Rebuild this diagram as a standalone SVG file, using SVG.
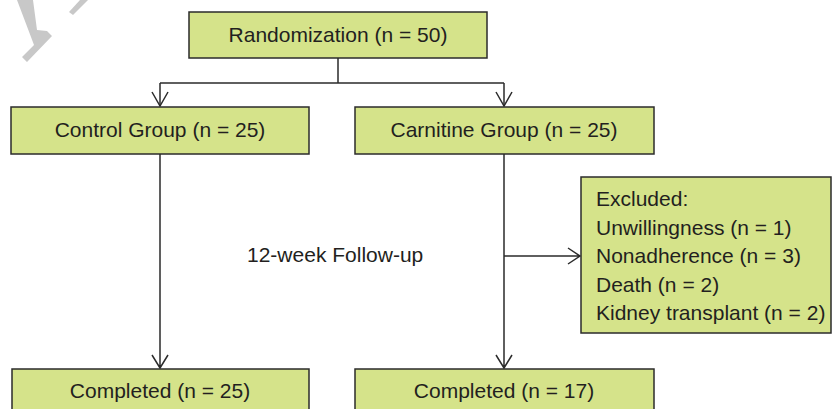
<svg xmlns="http://www.w3.org/2000/svg" width="832" height="409" viewBox="0 0 832 409">
<style>
.box{fill:#d5e38a;stroke:#2b2b2b;stroke-width:1.5}
.t{font-family:"Liberation Sans",Arial,sans-serif;font-size:21px;fill:#231f20}
.c{text-anchor:middle}
.ln{fill:none;stroke:#2b2b2b;stroke-width:1.5}
.wm{fill:#c8c8c8}
</style>
<rect width="832" height="409" fill="#ffffff"/>
<g id="watermark">
<polygon class="wm" points="17,0 33,0 37,30 47,31 52,36 27,62 22,57 34,45 31,37"/>
<polygon class="wm" points="69,12 73,15 88,0 80,0"/>
</g>
<g id="connectors">
<path class="ln" d="M338,58 V83 M160,83 H504 M160,83 V106 M504,83 V106"/>
<path class="ln" d="M152,92 L160,106 L168,92 M496,92 L504,106 L512,92"/>
<path class="ln" d="M160,154 V368 M152,355 L160,368 L168,355"/>
<path class="ln" d="M504,154 V368 M496,355 L504,368 L512,355"/>
<path class="ln" d="M504,256 H580 M568,248 L580,256 L568,264"/>
</g>
<g id="randomization">
<rect class="box" x="189" y="12" width="298" height="46"/>
<text class="t c" x="338" y="42">Randomization (n = 50)</text>
</g>
<g id="control">
<rect class="box" x="11" y="107" width="298" height="47"/>
<text class="t c" x="160" y="137">Control Group (n = 25)</text>
</g>
<g id="carnitine">
<rect class="box" x="355" y="107" width="299" height="47"/>
<text class="t c" x="504" y="137">Carnitine Group (n = 25)</text>
</g>
<g id="followup">
<text class="t" x="247" y="262">12-week Follow-up</text>
</g>
<g id="excluded">
<rect class="box" x="581" y="177" width="250" height="156"/>
<text class="t" x="596" y="206">Excluded:</text>
<text class="t" x="596" y="235">Unwillingness (n = 1)</text>
<text class="t" x="596" y="263">Nonadherence (n = 3)</text>
<text class="t" x="596" y="292">Death (n = 2)</text>
<text class="t" x="596" y="320">Kidney transplant (n = 2)</text>
</g>
<g id="completed-control">
<rect class="box" x="12" y="369" width="297" height="50"/>
<text class="t c" x="160" y="398">Completed (n = 25)</text>
</g>
<g id="completed-carnitine">
<rect class="box" x="355" y="369" width="299" height="50"/>
<text class="t c" x="504" y="398">Completed (n = 17)</text>
</g>
</svg>
